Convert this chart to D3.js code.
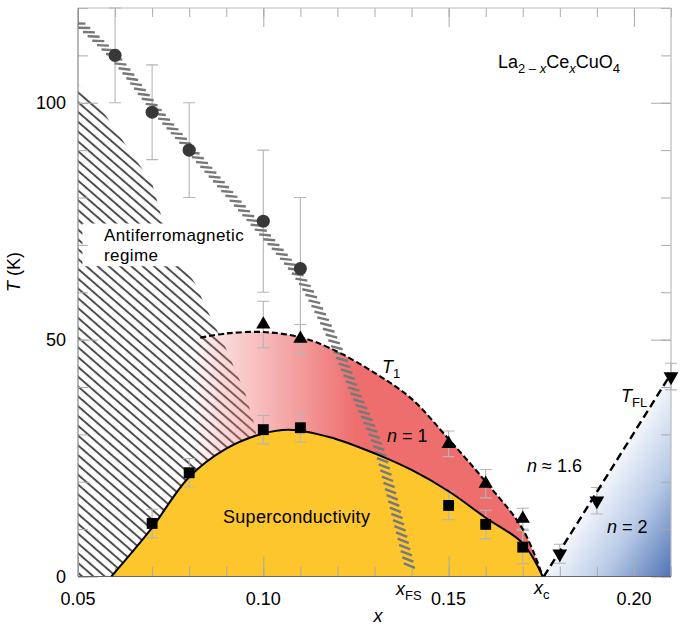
<!DOCTYPE html>
<html>
<head>
<meta charset="utf-8">
<script src="https://cdn.jsdelivr.net/npm/d3@7"></script>
<style>
  body { margin: 0; background: #fff; }
  svg { display: block; font-family: "Liberation Sans", Arial, Helvetica, sans-serif; }
</style>
</head>
<body>
<svg id="chart" width="685" height="629"></svg>
<script>
// antiferromagnetic onset (circles)
const afX = [0.06, 0.07, 0.08, 0.10, 0.11];
const afT = [110, 98, 90, 75, 65];
const afErr = [10, 10, 10, 15, 15];

// T1 (up triangles)
const t1X = [0.10, 0.11, 0.15, 0.16, 0.17];
const t1T = [53.2, 50.2, 28, 19.6, 12.2];
const t1Err = [4.9, 3, 2.7, 3, 2.2];

// Tc (squares)
const tcX = [0.07, 0.08, 0.10, 0.11, 0.15, 0.16, 0.17];
const tcT = [11.2, 21.9, 31, 31.4, 15, 11, 6.2];
const tcErr = [3, 3, 3, 3, 3, 3, 3.5];

// T_FL (down triangles)
const tflX = [0.18, 0.19, 0.21];
const tflT = [4.8, 16, 42.2];
const tflErr = [2, 2.8, 2.8];

// guide curves
const domeX = [0.059, 0.065, 0.07, 0.08, 0.09, 0.10, 0.107, 0.118, 0.13, 0.14, 0.15, 0.16, 0.17, 0.1754];
const domeT = [0, 5.5, 10.3, 21, 27, 30.2, 31, 29.4, 26, 22.5, 18, 12.4, 7, 0];
const t1LineX = [0.083, 0.09, 0.10, 0.11, 0.118, 0.13, 0.14, 0.15, 0.16, 0.17, 0.1754];
const t1LineT = [50.4, 51.3, 51.6, 50.5, 48.2, 43, 37.5, 29, 20, 10, 0];
const tflLineX = [0.1757, 0.21];
const tflLineT = [0, 42.8];
const fsX = [0.05, 0.06, 0.07, 0.08, 0.09, 0.10, 0.105, 0.1105, 0.116, 0.1214, 0.1249, 0.129, 0.1316, 0.135, 0.1395];
const fsT = [117, 109.5, 99.5, 90.5, 81.5, 72.5, 68, 62.4, 54.6, 45.5, 38.6, 31.4, 26, 16, 2];
const afEdgeX = [0.05, 0.05, 0.056, 0.063, 0.070, 0.0725, 0.075, 0.078, 0.0815, 0.085, 0.09, 0.095, 0.098, 0.098];
const afEdgeT = [0, 104, 99, 91, 83, 76, 70, 66, 62, 56, 48, 39, 31, 0];

const xMajor = [0.05, 0.10, 0.15, 0.20];
const xMinor = d3.range(0.05, 0.2101, 0.01);
const yMajor = [0, 50, 100];
const yMinor = d3.range(0, 121, 10);

const zip = (a, b) => a.map((v, i) => [v, b[i]]);

const svg = d3.select("#chart");
const x = d3.scaleLinear().domain([0.05, 0.21]).range([78, 671]);
const y = d3.scaleLinear().domain([0, 120]).range([576.5, 8]);

const defs = svg.append("defs");
defs.append("clipPath").attr("id", "plot")
  .append("rect").attr("x", x(0.05)).attr("y", y(120))
  .attr("width", x(0.21) - x(0.05)).attr("height", y(0) - y(120));

const hatch = defs.append("pattern").attr("id", "hatch")
  .attr("patternUnits", "userSpaceOnUse").attr("width", 10).attr("height", 7.4)
  .attr("patternTransform", "rotate(41)");
hatch.append("line").attr("x1", 0).attr("x2", 10).attr("y1", 3.7).attr("y2", 3.7)
  .attr("stroke", "#4d4d4d").attr("stroke-width", 2);

const pinkGrad = defs.append("linearGradient").attr("id", "pink")
  .attr("gradientUnits", "userSpaceOnUse")
  .attr("x1", x(0.081)).attr("x2", x(0.125)).attr("y1", 0).attr("y2", 0);
pinkGrad.append("stop").attr("offset", 0).attr("stop-color", "#ee6e6e").attr("stop-opacity", 0);
pinkGrad.append("stop").attr("offset", 0.15).attr("stop-color", "#ee6e6e").attr("stop-opacity", 0.22);
pinkGrad.append("stop").attr("offset", 1).attr("stop-color", "#ee6e6e").attr("stop-opacity", 1);

// blue gradient runs perpendicular to the T_FL line
const p0 = [x(tflLineX[0]), y(tflLineT[0])], p1 = [x(tflLineX[1]), y(tflLineT[1])];
const dx = p1[0] - p0[0], dy = p1[1] - p0[1], len = Math.hypot(dx, dy);
const nx = -dy / len, ny = dx / len;
const depth = (x(0.21) - p0[0]) * nx + (y(0) - p0[1]) * ny;
const blueGrad = defs.append("linearGradient").attr("id", "blue")
  .attr("gradientUnits", "userSpaceOnUse")
  .attr("x1", p0[0]).attr("y1", p0[1])
  .attr("x2", p0[0] + nx * depth).attr("y2", p0[1] + ny * depth);
blueGrad.append("stop").attr("offset", 0).attr("stop-color", "#f3f6fb");
blueGrad.append("stop").attr("offset", 0.45).attr("stop-color", "#b9cbe7");
blueGrad.append("stop").attr("offset", 1).attr("stop-color", "#5074b7");

const g = svg.append("g").attr("clip-path", "url(#plot)");

const line = d3.line().x(d => x(d[0])).y(d => y(d[1]));
const smooth = d3.line().x(d => x(d[0])).y(d => y(d[1])).curve(d3.curveCatmullRom.alpha(0.5));

// antiferromagnetic hatching
g.append("path").attr("d", line(zip(afEdgeX, afEdgeT)) + "Z").attr("fill", "url(#hatch)");
g.append("rect")
  .attr("x", x(0.0512)).attr("y", y(74.5))
  .attr("width", x(0.0975) - x(0.0512)).attr("height", y(65.5) - y(74.5))
  .attr("fill", "#fff");

// T1 region
const t1Pts = zip(t1LineX, t1LineT);
g.append("path")
  .attr("d", smooth(t1Pts) + "L" + x(0.078) + "," + y(0) + "L" + x(0.078) + "," + y(50) + "Z")
  .attr("fill", "url(#pink)");

// superconducting dome
const domePts = zip(domeX, domeT);
g.append("path").attr("d", smooth(domePts) + "Z").attr("fill", "#fcc62c");

// Fermi-liquid region
g.append("path")
  .attr("d", line(zip(tflLineX, tflLineT)) + "L" + x(0.21) + "," + y(0) + "Z")
  .attr("fill", "url(#blue)");

// error bars
function errorBars(xs, ts, es) {
  const eg = svg.append("g").attr("stroke", "#b5b5b5").attr("stroke-width", 1.1).attr("fill", "none");
  xs.forEach((v, i) => {
    const cx = x(v), lo = y(Math.max(0, ts[i] - es[i])), hi = y(Math.min(120, ts[i] + es[i]));
    eg.append("path").attr("d", `M${cx},${hi}V${lo}M${cx - 6},${hi}H${cx + 6}M${cx - 6},${lo}H${cx + 6}`);
  });
}
errorBars(afX, afT, afErr);
errorBars(t1X, t1T, t1Err);
errorBars(tcX, tcT, tcErr);
errorBars(tflX, tflT, tflErr);

// x_FS band drawn as short slanted stripes along its centre line
const bandNode = g.append("path").attr("d", smooth(zip(fsX, fsT)))
  .attr("fill", "none").attr("stroke", "none").node();
const bandLen = bandNode.getTotalLength();
const half = 6;
const stripes = d3.range(2, bandLen, 6.4).map(s => {
  const p = bandNode.getPointAtLength(s);
  const q = bandNode.getPointAtLength(Math.min(bandLen, s + 1));
  const r = bandNode.getPointAtLength(Math.max(0, s - 1));
  const band = Math.atan2(q.y - r.y, q.x - r.x);
  return { x: p.x, y: p.y, a: band * 0.6 - 24 * Math.PI / 180 };
});
const stripeLayer = svg.append("g").attr("clip-path", "url(#plot)");
stripeLayer.selectAll("line").data(stripes).join("line")
  .attr("x1", p => p.x - half * Math.cos(p.a)).attr("y1", p => p.y - half * Math.sin(p.a))
  .attr("x2", p => p.x + half * Math.cos(p.a)).attr("y2", p => p.y + half * Math.sin(p.a))
  .attr("stroke", "#787878").attr("stroke-width", 2.4);

// boundary lines
const lines = svg.append("g").attr("clip-path", "url(#plot)").attr("fill", "none").attr("stroke", "#000");
lines.append("path").attr("d", smooth(domePts)).attr("stroke-width", 2);
lines.append("path").attr("d", smooth(t1Pts)).attr("stroke-width", 2.1).attr("stroke-dasharray", "6,3");
lines.append("path").attr("d", line(zip(tflLineX, tflLineT)))
  .attr("stroke-width", 2.4).attr("stroke-dasharray", "8,4.5");

// markers
function markers(xs, ts, type, size, fill, rot) {
  svg.append("g").selectAll("path").data(zip(xs, ts)).join("path")
    .attr("d", d3.symbol().type(type).size(size))
    .attr("transform", d => `translate(${x(d[0])},${y(d[1])}) rotate(${rot})`)
    .attr("fill", fill);
}
markers(afX, afT, d3.symbolCircle, 135, "#38383a", 0);
markers(t1X, t1T, d3.symbolTriangle, 88, "#000", 0);
markers(tcX, tcT, d3.symbolSquare, 118, "#000", 0);
markers(tflX, tflT, d3.symbolTriangle, 95, "#000", 180);

// axes: ticks point inward on all four sides, drawn above the fills
const tickCol = "#aaa";
const axes = svg.insert("g", "g + g");
function ticks(axis, transform, vals, size) {
  const a = axes.append("g").attr("transform", transform)
    .call(axis.tickValues(vals).tickSize(size).tickFormat(""));
  a.select(".domain").remove();
  a.selectAll("line").attr("stroke", tickCol);
}
ticks(d3.axisBottom(x), `translate(0,${y(0)})`, xMinor, -10);
ticks(d3.axisBottom(x), `translate(0,${y(0)})`, xMajor, -20);
ticks(d3.axisTop(x), `translate(0,${y(120)})`, xMinor, -9);
ticks(d3.axisTop(x), `translate(0,${y(120)})`, xMajor, -19);
ticks(d3.axisLeft(y), `translate(${x(0.05)},0)`, yMinor, -10);
ticks(d3.axisLeft(y), `translate(${x(0.05)},0)`, yMajor, -20);
ticks(d3.axisRight(y), `translate(${x(0.21)},0)`, yMinor, -10);
ticks(d3.axisRight(y), `translate(${x(0.21)},0)`, yMajor, -20);

const frame = axes.append("g").attr("fill", "none").attr("stroke-width", 1.2);
frame.append("line").attr("x1", x(0.05)).attr("x2", x(0.21)).attr("y1", y(120)).attr("y2", y(120)).attr("stroke", "#bbb");
frame.append("line").attr("x1", x(0.21)).attr("x2", x(0.21)).attr("y1", y(120)).attr("y2", y(0)).attr("stroke", "#bbb");
frame.append("line").attr("x1", x(0.05)).attr("x2", x(0.05)).attr("y1", y(120)).attr("y2", y(0)).attr("stroke", "#888");
frame.append("line").attr("x1", x(0.05)).attr("x2", x(0.21)).attr("y1", y(0)).attr("y2", y(0)).attr("stroke", "#666");

// tick labels
const fs = 18;
svg.append("g").selectAll("text").data(xMajor).join("text")
  .attr("x", d => x(d)).attr("y", 605).attr("text-anchor", "middle")
  .attr("font-size", fs).text(d3.format(".2f"));
svg.append("g").selectAll("text").data(yMajor).join("text")
  .attr("x", 66).attr("y", d => y(d) + 6.5).attr("text-anchor", "end")
  .attr("font-size", fs).text(d => d);

// axis titles
svg.append("text").attr("x", 378).attr("y", 622).attr("text-anchor", "middle")
  .attr("font-size", fs).attr("font-style", "italic").text("x");
const yt = svg.append("text").attr("transform", "translate(20,272) rotate(-90)")
  .attr("text-anchor", "middle").attr("font-size", fs);
yt.append("tspan").attr("font-style", "italic").text("T");
yt.append("tspan").text(" (K)");

// annotation helper: parts are [text, italic, sub]
function label(px, py, parts, size) {
  const t = svg.append("text").attr("x", px).attr("y", py).attr("font-size", size || fs);
  let shift = 0;
  parts.forEach(([s, it, sub]) => {
    const want = sub ? 5 : 0;
    t.append("tspan").attr("dy", want - shift)
      .attr("font-size", sub ? 13 : (size || fs))
      .attr("font-style", it ? "italic" : "normal").text(s);
    shift = want;
  });
  return t;
}

label(498, 68, [["La", 0, 0], ["2 \u2013 ", 0, 1], ["x", 1, 1], ["Ce", 0, 0], ["x", 1, 1], ["CuO", 0, 0], ["4", 0, 1]]);
label(104, 240.5, [["Antiferromagnetic", 0, 0]], 17).attr("letter-spacing", 0.4);
label(104, 260.5, [["regime", 0, 0]], 17).attr("letter-spacing", 0.4);
label(223, 523, [["Superconductivity", 0, 0]]).attr("letter-spacing", 0.3);
label(382, 373, [["T", 1, 0], ["1", 0, 1]]);
label(387, 442, [["n", 1, 0], [" = 1", 0, 0]]);
label(527, 472, [["n", 1, 0], [" \u2248 1.6", 0, 0]]);
label(607, 533, [["n", 1, 0], [" = 2", 0, 0]]);
label(621, 402, [["T", 1, 0], ["FL", 0, 1]]);
label(396, 595, [["x", 1, 0], ["FS", 0, 1]]);
label(534, 594, [["x", 1, 0], ["c", 0, 1]]);
</script>
</body>
</html>
